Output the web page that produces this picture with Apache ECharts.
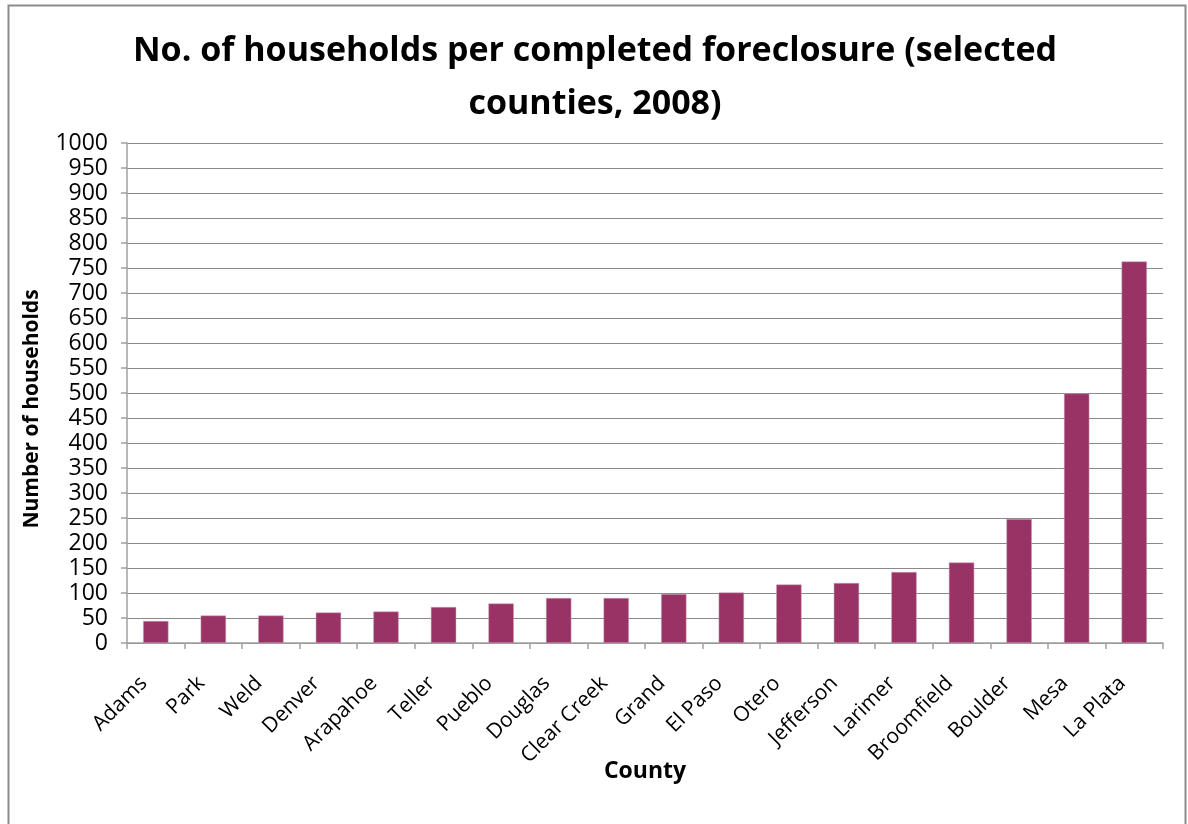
<!DOCTYPE html>
<html>
<head>
<meta charset="utf-8">
<script src="https://cdn.jsdelivr.net/npm/echarts@6/dist/echarts.min.js"></script>
<style>
html,body{margin:0;padding:0;background:#fff;}
#c{width:1188px;height:824px;}
</style>
</head>
<body>
<div id="c"></div>
<script>
const counties = ["Adams","Park","Weld","Denver","Arapahoe","Teller","Pueblo","Douglas","Clear Creek","Grand","El Paso","Otero","Jefferson","Larimer","Broomfield","Boulder","Mesa","La Plata"];
const households = [44,55,55,61,63,72,79,90,90,98,101,117,120,142,161,248,499,763];
const titleText = "No. of households per completed foreclosure (selected\ncounties, 2008)";
const yAxisName = "Number of households";
const xAxisName = "County";

const FONT = "'Open Sans', sans-serif";
const chart = echarts.init(document.getElementById('c'), null, {renderer:'canvas'});
chart.setOption({
  animation:false,
  backgroundColor:'#fff',
  graphic:[{type:'rect',shape:{x:8.5,y:5.5,width:1177,height:830},style:{fill:'none',stroke:'#8c8c8c',lineWidth:2},silent:true}],
  title:{
    text:titleText,
    left:590, textAlign:'center', top:20,
    textStyle:{fontFamily:FONT,fontWeight:'bold',fontSize:34,lineHeight:53,color:'#000'}
  },
  grid:{left:127,right:25,top:143,bottom:181,containLabel:false},
  xAxis:{
    type:'category',
    data:counties,
    name:xAxisName,
    nameLocation:'middle',
    nameGap:117,
    nameMoveOverlap:false,
    nameTextStyle:{fontFamily:FONT,fontWeight:'bold',fontSize:23,color:'#000'},
    axisLine:{lineStyle:{color:'#a0a0a0',width:1.5}},
    axisTick:{show:true,alignWithLabel:false,length:6,lineStyle:{color:'#a0a0a0',width:1.5}},
    axisLabel:{rotate:45,fontFamily:FONT,fontSize:21,color:'#000',margin:25,padding:[0,17,0,0],interval:0}
  },
  yAxis:{
    type:'value',
    min:0,max:1000,interval:50,
    name:yAxisName,
    nameLocation:'middle',
    nameGap:84,
    nameRotate:90,
    nameTextStyle:{fontFamily:FONT,fontWeight:'bold',fontSize:21,color:'#000',padding:[0,32,0,0]},
    axisLine:{show:true,lineStyle:{color:'#a0a0a0',width:1.5}},
    axisTick:{show:true,length:6,lineStyle:{color:'#a0a0a0',width:1.5}},
    axisLabel:{fontFamily:FONT,fontSize:23,color:'#000',margin:19,formatter:v=>String(v)},
    splitLine:{show:true,lineStyle:{color:'#8a8a8a',width:1.2}}
  },
  series:[{
    type:'bar',
    data:households,
    barWidth:'44%',
    itemStyle:{color:'#993366',borderColor:'#c9a3b6',borderWidth:0.5}
  }]
});
</script>
</body>
</html>
